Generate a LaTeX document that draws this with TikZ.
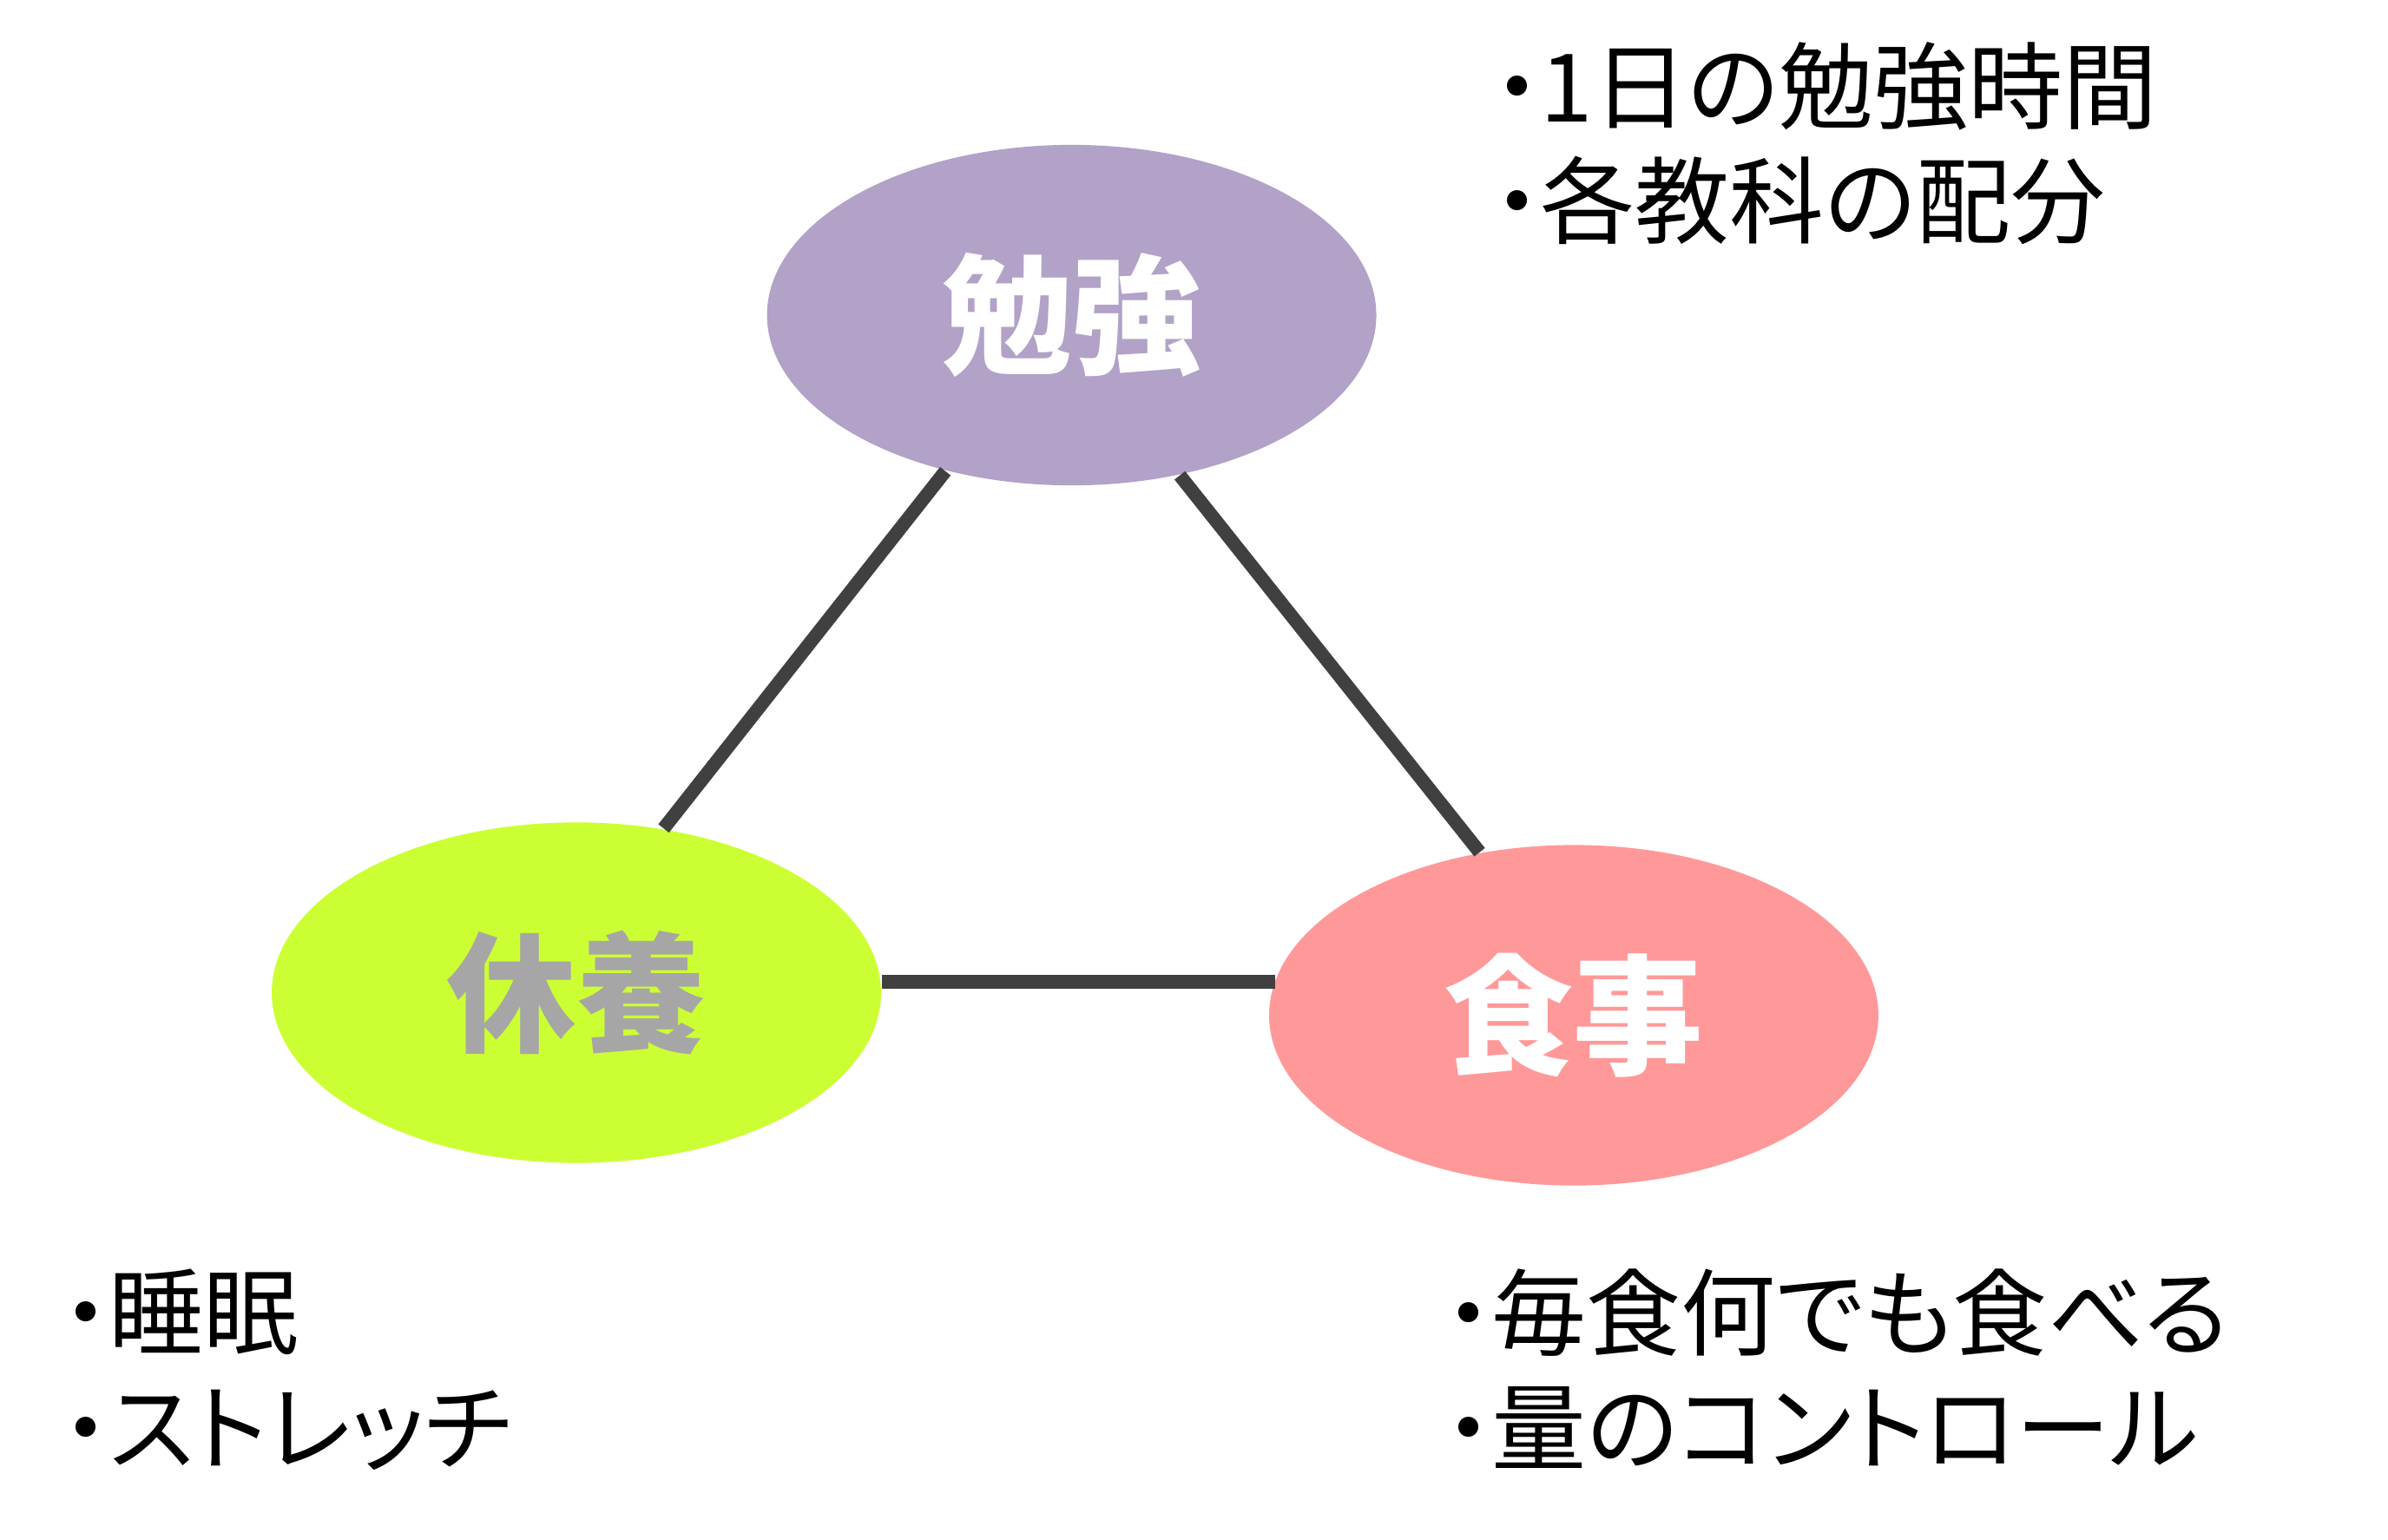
\documentclass[tikz,border=0pt]{standalone}
\usepackage{fontspec}
\setmainfont{Noto Sans CJK JP}
\newfontfamily\memofont[RawFeature=+palt]{Noto Sans CJK JP}
\usetikzlibrary{shapes.geometric}
\definecolor{studycol}{HTML}{B2A2C7}
\definecolor{restcol}{HTML}{CCFF33}
\definecolor{mealcol}{HTML}{FF9999}
\definecolor{restfont}{HTML}{A6A6A6}
\definecolor{linkcol}{HTML}{404040}
\tikzset{
  topic/.style={ellipse, minimum width=3.96cm, minimum height=2.213cm, inner sep=0pt,
    font=\fontsize{24}{24}\selectfont\bfseries},
  link/.style={line width=2.5pt, draw=linkcol},
  memo/.style={anchor=west, align=left, inner sep=0pt, font=\memofont\fontsize{17.5}{21.3}\selectfont}
}
\begin{document}
\begin{tikzpicture}
\useasboundingbox (0,0) rectangle (15.52,-10.003);
%\draw (0,0) grid (15.52,-10.003);
\node[topic, fill=studycol, text=white] (study) at (6.965,-2.048) {勉強};
\node[topic, fill=restcol, text=restfont] (rest) at (3.746,-6.451) {休養};
\node[topic, fill=mealcol, text=white] (meal) at (10.228,-6.598) {食事};

\draw[link] (study.-129.4) -- (rest.62.9);
\draw[link] (study.-56.7) -- (meal.120.9);
\draw[link] (rest.2.2) -- (rest.2.2 -| meal.173.4);

\node[memo] (studynote) at (9.698,-0.932) {・1日の勉強時間\\・各教科の配分};
\node[memo] (restnote) at (0.395,-8.901) {・睡眠\\・ストレッチ};
\node[memo] (mealnote) at (9.382,-8.894) {・毎食何でも食べる\\・量のコントロール};
\end{tikzpicture}
\end{document}
